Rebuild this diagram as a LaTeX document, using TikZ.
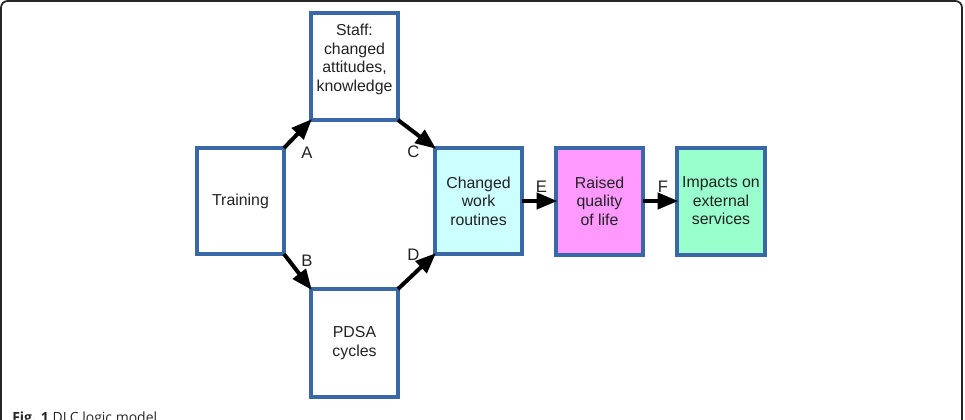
\documentclass[tikz,border=0pt]{standalone}
\usepackage{fontspec}
\setmainfont{Liberation Sans}
\newfontfamily\capfont{Open Sans}
\usetikzlibrary{arrows.meta}
\definecolor{boxblue}{HTML}{3A68A6}
\definecolor{cyanfill}{HTML}{CCFFFF}
\definecolor{pinkfill}{HTML}{FF99FF}
\definecolor{greenfill}{HTML}{99FFCC}
\definecolor{txt}{HTML}{222222}
\tikzset{
  blk/.style={draw=boxblue, line width=3pt, inner sep=0pt, text=txt,
    font=\fontsize{11.9pt}{13.9pt}\selectfont, align=center},
  flow/.style={line width=3pt, -{Triangle[length=15.5pt,width=12pt]}, shorten >=-1pt},
  lbl/.style={font=\fontsize{12.5pt}{15pt}\selectfont, text=txt, inner sep=0pt}
}
\begin{document}
\begin{tikzpicture}[x=0.75pt,y=-0.75pt]
\useasboundingbox (0,0) rectangle (965,420);
\begin{scope}
\clip (0,0) rectangle (965,420);
\draw[line width=1.3pt, draw=black!85, rounded corners=5pt] (1,460) -- (1,1) -- (962,1) -- (962,460);
\node[anchor=base west, inner sep=0pt, font=\capfont\fontsize{10.5pt}{12pt}\selectfont, text=black!85] (cap) at (12,423) {\textbf{Fig. 1} DLC logic model};
\end{scope}

\draw[blk] (311,13) rectangle (398,120);
\coordinate (stA) at (311,120); \coordinate (stC) at (398,120);
\node[blk, draw=none, anchor=north] (staff) at (354.5,22) {Staff:\\changed\\attitudes,\\knowledge};

\draw[blk] (197,148) rectangle (284,254);
\node[blk, draw=none] (train) at (240.5,201) {Training};
\coordinate (trA) at (284,148); \coordinate (trB) at (284,254);

\draw[blk, fill=cyanfill] (435,148) rectangle (522,254);
\node[blk, draw=none] (cwr) at (478.5,201) {Changed\\work\\routines};
\coordinate (cwC) at (435,148); \coordinate (cwD) at (435,254);
\coordinate (cwE) at (522,201);

\draw[blk] (311,289) rectangle (398,397);
\node[blk, draw=none] (pdsa) at (354.5,343) {PDSA\\cycles};
\coordinate (pdB) at (311,289); \coordinate (pdD) at (398,289);

\draw[blk, fill=pinkfill] (556,148) rectangle (643,255);
\node[blk, draw=none] (raised) at (599.5,201) {Raised\\quality\\of life};
\coordinate (raE) at (556,201); \coordinate (raF) at (643,201);

\draw[blk, fill=greenfill] (677,148) rectangle (765,255);
\node[blk, draw=none] (impact) at (721,201) {Impacts on\\external\\services};
\coordinate (imF) at (677,201);

\draw[flow] (trA) -- (stA);
\draw[flow] (stC) -- (cwC);
\draw[flow] (trB) -- (pdB);
\draw[flow] (pdD) -- (cwD);
\draw[flow] (cwE) -- (raE);
\draw[flow] (raF) -- (imF);

\node[lbl] (la) at (307,152.5) {A};
\node[lbl] (lc) at (413.5,152) {C};
\node[lbl] (lb) at (307,261) {B};
\node[lbl] (ld) at (413.5,254.5) {D};
\node[lbl] (le) at (541.5,187) {E};
\node[lbl] (lf) at (663,187) {F};
\end{tikzpicture}
\end{document}
